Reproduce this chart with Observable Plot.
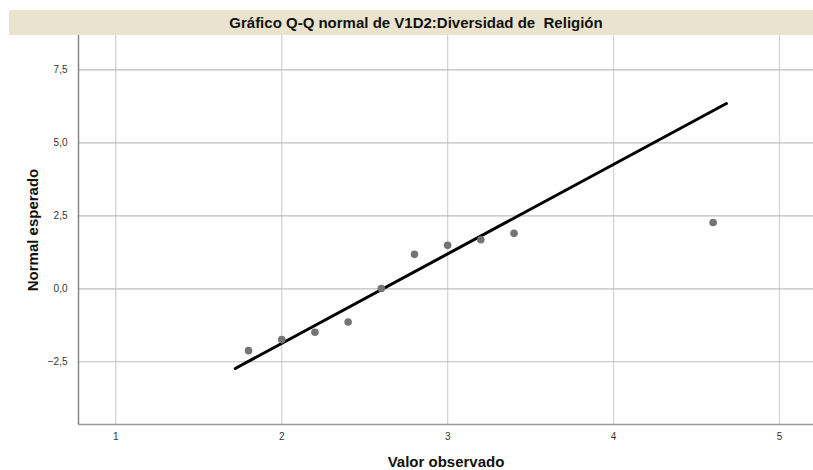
<!DOCTYPE html>
<html>
<head>
<meta charset="utf-8">
<script src="https://cdn.jsdelivr.net/npm/d3@7"></script>
<script src="https://cdn.jsdelivr.net/npm/@observablehq/plot@0.6"></script>
<style>
  html, body { margin: 0; padding: 0; background: #fff; }
  #wrap { position: relative; width: 813px; height: 470px; overflow: hidden; }
  #title {
    position: absolute; left: 9px; top: 10px; width: 804px; height: 25px;
    box-sizing: border-box; padding-left: 10px;
    background: #EAE4CE; font-family: "Liberation Sans", Arial, sans-serif;
    font-size: 15px; font-weight: bold; color: #111; text-align: center; line-height: 26px;
    white-space: pre;
  }
  #chart { position: absolute; left: 0; top: 0; }
</style>
</head>
<body>
<div id="wrap">
  <div id="chart"></div>
  <div id="title"></div>
</div>
<script>
const titleText = "Gráfico Q-Q normal de V1D2:Diversidad de  Religión";
const xLabel = "Valor observado";
const yLabel = "Normal esperado";

const observed = [1.8, 2.0, 2.2, 2.4, 2.6, 2.8, 3.0, 3.2, 3.4, 4.6];
const expected = [-2.12, -1.74, -1.49, -1.14, 0.01, 1.18, 1.49, 1.68, 1.90, 2.27];

const lineX = [1.72, 4.68];
const lineY = [-2.73, 6.35];

const xTicks = [1, 2, 3, 4, 5];
const yTicks = [-2.5, 0, 2.5, 5, 7.5];

document.getElementById("title").textContent = titleText;

const points = observed.map((x, i) => ({x, y: expected[i]}));
const refLine = lineX.map((x, i) => ({x, y: lineY[i]}));

const fmt = d => d3.format(".1f")(d).replace(".", ",");

const chart = Plot.plot({
  width: 813,
  height: 470,
  marginLeft: 78,
  marginRight: 0,
  marginTop: 35,
  marginBottom: 46,
  style: { fontFamily: "Liberation Sans, Arial, sans-serif", background: "#fff" },
  x: { domain: [0.775, 5.205], ticks: xTicks, label: null },
  y: { domain: [-4.65, 8.68], ticks: yTicks, label: null },
  marks: [
    Plot.gridX(xTicks, { stroke: "#d4d4d4", strokeOpacity: 1, strokeWidth: 1.3 }),
    Plot.gridY(yTicks, { stroke: "#bdbdbd", strokeOpacity: 1, strokeWidth: 1.2 }),
    Plot.axisX(xTicks, { tickSize: 0, tickPadding: 8, fontSize: 10, fill: "#333", tickFormat: d => String(d), label: null }),
    Plot.axisY(yTicks, { tickSize: 0, tickPadding: 11, fontSize: 10, fill: "#333", tickFormat: fmt, label: null }),
    Plot.ruleY([-4.65], { stroke: "#999", strokeWidth: 1.5 }),
    Plot.ruleX([0.775], { stroke: "#888", strokeWidth: 1.5 }),
    Plot.line(refLine, { x: "x", y: "y", stroke: "#000", strokeWidth: 3 }),
    Plot.dot(points, { x: "x", y: "y", r: 3.8, fill: "#747474", stroke: "none" }),
    Plot.text([xLabel], { frameAnchor: "bottom", textAnchor: "middle", lineAnchor: "middle", dy: 38, fontSize: 15, fill: "#111", fontWeight: "bold" }),
    Plot.text([yLabel], { frameAnchor: "left", textAnchor: "middle", lineAnchor: "middle", dx: -45, rotate: -90, fontSize: 15, fill: "#111", fontWeight: "bold" })
  ]
});
document.getElementById("chart").appendChild(chart);
</script>
</body>
</html>
